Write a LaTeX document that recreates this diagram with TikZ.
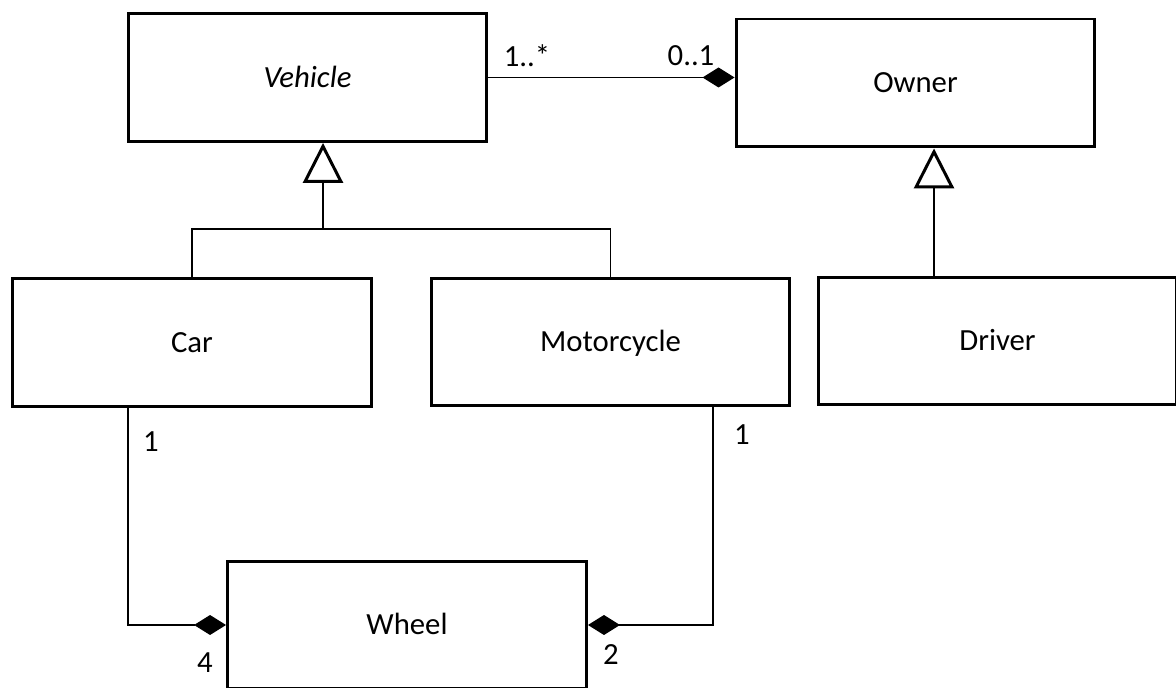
\documentclass[tikz,border=0pt]{standalone}
\usepackage{fontspec}
\setmainfont{Carlito}
\usetikzlibrary{arrows.meta}

\begin{document}
\begin{tikzpicture}[x=0.02cm, y=-0.02cm,
    classe/.style={draw, rectangle, line width=1.7pt, minimum width=7.18cm, minimum height=2.56cm, text height=11.3pt, text depth=0pt, font=\fontsize{17.5}{21}\selectfont},
    lien/.style={line width=0.85pt},
    heritage/.style={lien, -{Triangle[open, length=0.8cm, width=0.8cm, line width=1.7pt]}},
    composition/.style={lien, -{Diamond[length=0.64cm, width=0.4cm]}},
    mult/.style={font=\fontsize{17.5}{21}\selectfont}]
    \useasboundingbox (0,0) rectangle (1176,688);

    % Classes du haut
    \node[classe, font=\fontsize{17.5}{21}\selectfont\itshape] (vehicle) at (307.5, 77.5) {Vehicle};
    \node[classe] (owner) at (915.5, 83) {Owner};

    % Sous-classes
    \node[classe] (car) at (192, 342.5) {Car};
    \node[classe] (motorcycle) at (610.5, 342) {Motorcycle};
    \node[classe] (driver) at (997.5, 341) {Driver};

    % Composant
    \node[classe] (wheel) at (407, 625) {Wheel};

    % Points de passage
    \coordinate (vehgen) at (323, 229);
    \coordinate (drvgen) at (934, 276);
    \coordinate (carlink) at (128, 407);
    \coordinate (motolink) at (713, 406);

    % Héritage
    \draw[lien] (car.north) |- (vehgen) -| (motorcycle.north);
    \draw[heritage] (vehgen) -- (vehgen |- vehicle.south);
    \draw[heritage] (drvgen |- driver.north) -- (drvgen |- owner.south);

    % Compositions
    \draw[composition] (vehicle.east) -- (vehicle.east -| owner.west);
    \draw[composition] (car.south -| carlink) |- (wheel.west);
    \draw[composition] (motorcycle.south -| motolink) |- (wheel.east);

    % Multiplicités
    \node[mult] (multveh) at (527, 56) {1..*};
    \node[mult] (multown) at (691, 56) {0..1};
    \node[mult] (multcar) at (151, 442) {1};
    \node[mult] (multmoto) at (742, 435) {1};
    \node[mult] (multwcar) at (205, 663) {4};
    \node[mult] (multwmoto) at (611, 655) {2};

\end{tikzpicture}
\end{document}
